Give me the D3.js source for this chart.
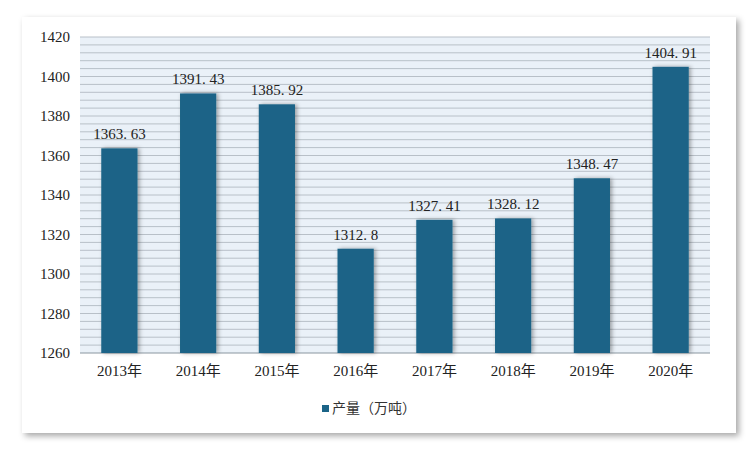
<!DOCTYPE html><html><head><meta charset="utf-8"><script src="https://cdn.jsdelivr.net/npm/d3@7"></script>
<style>body{margin:0;background:#fff}</style></head><body><svg id="c" width="750" height="451"></svg>
<script>
const categories=["2013年","2014年","2015年","2016年","2017年","2018年","2019年","2020年"];
const values=[1363.63,1391.43,1385.92,1312.8,1327.41,1328.12,1348.47,1404.91];
const labels=["1363. 63","1391. 43","1385. 92","1312. 8","1327. 41","1328. 12","1348. 47","1404. 91"];
const yTicks=[1260,1280,1300,1320,1340,1360,1380,1400,1420];
const svg=d3.select("#c");
const defs=svg.append("defs");
const f=defs.append("filter").attr("id","sh").attr("x","-20%").attr("y","-20%").attr("width","140%").attr("height","140%");
f.append("feDropShadow").attr("dx",3).attr("dy",3).attr("stdDeviation",3).attr("flood-color","#000").attr("flood-opacity",0.35);
const f2=defs.append("filter").attr("id","sh2").attr("x","-30%").attr("y","-10%").attr("width","160%").attr("height","120%");
f2.append("feDropShadow").attr("dx",2).attr("dy",0).attr("stdDeviation",2).attr("flood-color","#000").attr("flood-opacity",0.35);
svg.append("rect").attr("x",22).attr("y",17).attr("width",714).attr("height",416).attr("fill","#fff").attr("filter","url(#sh)");
const x=d3.scaleBand().domain(categories).range([80,710]).paddingInner(0.54).paddingOuter(0.27);
const y=d3.scaleLinear().domain([1260,1420]).range([353,37]);
const g=svg.append("g");
g.append("rect").attr("x",80).attr("y",37).attr("width",630).attr("height",316).attr("fill","#eaf1f8");
g.selectAll("line.g").data(d3.range(1264,1421,4)).join("line").attr("x1",80).attr("x2",710)
 .attr("y1",d=>y(d)).attr("y2",d=>y(d)).attr("stroke","#b8c0c8").attr("stroke-width",1);
g.append("line").attr("x1",80).attr("x2",710).attr("y1",353).attr("y2",353).attr("stroke","#8a96a0");
g.selectAll("rect.b").data(values).join("rect").attr("x",(d,i)=>x(categories[i])).attr("width",x.bandwidth())
 .attr("y",d=>y(d)).attr("height",d=>353-y(d)).attr("fill","#1b6487").attr("filter","url(#sh2)");
const ff="'Liberation Serif','DejaVu Serif',serif";
g.selectAll("text.v").data(values).join("text").attr("x",(d,i)=>x(categories[i])+x.bandwidth()/2).attr("y",d=>y(d)-9)
 .attr("text-anchor","middle").attr("font-family",ff).attr("font-size",15).attr("fill","#222").text((d,i)=>labels[i]);
const ya=d3.axisLeft(y).tickValues(yTicks).tickSize(0).tickPadding(10).tickFormat(d3.format("d"));
svg.append("g").attr("transform","translate(80,0)").call(ya).call(s=>s.select(".domain").remove())
 .selectAll("text").attr("font-family",ff).attr("font-size",15).attr("fill","#222");
const xa=d3.axisBottom(x).tickSize(0).tickPadding(12);
svg.append("g").attr("transform","translate(0,353)").call(xa).call(s=>s.select(".domain").remove())
 .selectAll("text").attr("font-family","'Liberation Serif','Noto Sans CJK SC',serif").attr("font-size",15).attr("fill","#222");
svg.append("rect").attr("x",322).attr("y",405).attr("width",7).attr("height",7).attr("fill","#1b6487");
svg.append("text").attr("x",332).attr("y",413).attr("font-family","'Noto Sans CJK SC'").attr("font-size",14).attr("fill","#333").text("产量（万吨）");
</script></body></html>
